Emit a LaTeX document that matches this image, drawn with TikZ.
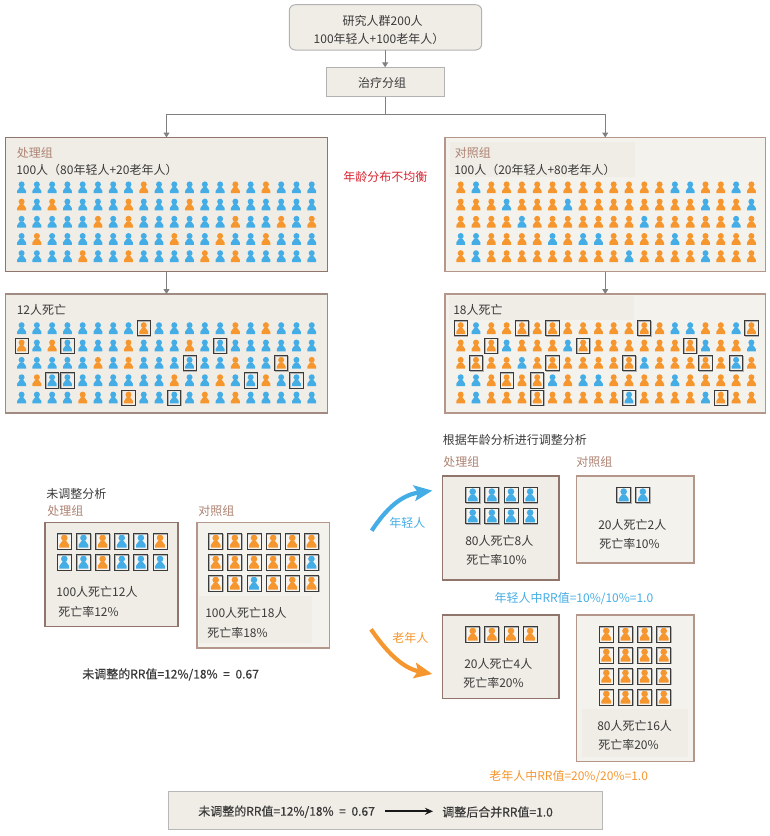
\documentclass[tikz,border=0pt]{standalone}
\usepackage{fontspec}
\setmainfont{Noto Sans CJK SC}
\newfontfamily\medfont[FakeBold=0.5]{Noto Sans CJK SC}
\usetikzlibrary{arrows.meta}
\definecolor{B}{HTML}{45ADE6}
\definecolor{O}{HTML}{F5962F}
\definecolor{ink}{HTML}{3A3A3A}
\definecolor{brown}{HTML}{AD8272}
\definecolor{alert}{HTML}{D8232E}
\definecolor{pfill}{HTML}{F0EDE6}
\definecolor{qfill}{HTML}{F4F2ED}
\definecolor{pline}{HTML}{8F756B}
\definecolor{qline}{HTML}{B4978A}
\definecolor{link}{HTML}{808080}
\newif\ifhit
\tikzset{
  pxw/.style={line width=#1*.75pt},
  txt/.style={inner sep=0pt,font=\fontsize{9pt}{11pt}\selectfont,text=ink},
  lab/.style={text=brown},
  bluet/.style={text=B},
  oranget/.style={text=O},
  med/.style={font=\fontsize{9pt}{11pt}\medfont},
  darkpanel/.style={draw=pline,fill=pfill,pxw=1.6},
  lightpanel/.style={draw=qline,fill=qfill,pxw=1.6},
  softpanel/.style={draw=#1,fill=pfill,pxw=1},
  inner/.style={fill=pfill},
  linkline/.style={draw=link,pxw=1,-{Triangle[length=5*.75pt,width=6*.75pt]}},
  plainline/.style={draw=link,pxw=1},
  tag/.style={draw=ink,pxw=.9},
  tagshade/.style={draw=black!30,pxw=1}
}
\newcommand{\man}[4]{% x y colour scale
  \begin{scope}[shift={(#1,#2)},scale=#4]
    \fill[#3] (0,-3.1) circle (3);
    \fill[#3] (-4.4,5.7) -- (-4.4,3.3) .. controls (-4.4,1.5) and (-2.1,1.6) .. (-1.6,-.5) -- (1.6,-.5) .. controls (2.1,1.6) and (4.4,1.5) .. (4.4,3.3) -- (4.4,5.7) -- cycle;
  \end{scope}}
\newcommand{\tagbox}[4]{% x y w h
  \draw[tagshade] ({#1-#3/2+.6},{#2-#4/2+.6}) rectangle ({#1+#3/2+.6},{#2+#4/2+.6});
  \draw[tag] ({#1-#3/2},{#2-#4/2}) rectangle ({#1+#3/2},{#2+#4/2});}
\newcommand{\crowd}[7]{% x0 y0 dx dy base alt rows(r/{alts}/{boxes})
  \foreach \rowi/\alts/\boxes in {#7} {
    \foreach \cc in {1,...,20} {
      \pgfmathsetmacro{\px}{#1+(\cc-1)*#3}
      \pgfmathsetmacro{\py}{#2+(\rowi-1)*#4}
      \global\hitfalse
      \foreach \o in \alts {\ifnum\o=\cc\relax\global\hittrue\fi}
      \ifhit\man{\px}{\py}{#6}{1}\else\man{\px}{\py}{#5}{1}\fi
      \foreach \o in \boxes {\ifnum\o=\cc\relax\tagbox{\px}{\py}{13.2}{15.2}\fi}
    }
  }}
\newcommand{\tiles}[3]{% x0 y0 rows
  \foreach \rw [count=\ri from 0] in {#3} {
    \foreach \cl [count=\ci from 0] in \rw {
      \pgfmathsetmacro{\px}{#1+\ci*19.15}
      \pgfmathsetmacro{\py}{#2+\ri*21}
      \fill[white!40!pfill] ({\px-7},{\py-8}) rectangle ({\px+7},{\py+8});
      \man{\px}{\py}{\cl}{1.1}
      \tagbox{\px}{\py}{14}{15.6}
    }
  }}
\newcommand{\tbox}[6]{% name x1 y1 x2 y2 style
  \node[#6,anchor=north west,inner sep=0pt,outer sep=0pt,
    minimum width={(#4-#2)*.75pt},minimum height={(#5-#3)*.75pt}] (#1) at (#2,#3) {};}
\newcommand{\tx}[5]{% name x y style text
  \node[txt,anchor=west,#4] (#1) at (#2,#3) {#5};}
\newcommand{\eqgap}{\hspace{2.2pt}}
\begin{document}
\begin{tikzpicture}[x=.75pt,y=-.75pt]
\useasboundingbox (0,0) rectangle (770,836);
% top
\node[draw=black!30,fill=pfill,rounded corners=4.5pt,pxw=1,anchor=north west,inner sep=0pt,outer sep=0pt,
  minimum width={192.4*.75pt},minimum height={45.3*.75pt}] (top) at (289.3,4.7) {};
\node[txt,anchor=center] (topa) at (382.7,21) {研究人群200人};
\node[txt,anchor=center] (topb) at (379,38.7) {100年轻人+100老年人）};
\tbox{split}{326.3}{67.3}{444}{96.7}{draw=black!30,fill=pfill,pxw=1}
\node[txt,anchor=center] (splitt) at (382,83) {治疗分组};
\coordinate (fork) at (385.15,114.5);
% panels
\tbox{pa}{5.5}{137.5}{327.5}{271.5}{darkpanel}
\tbox{pb}{445}{137.5}{765.5}{271.5}{lightpanel}
\tbox{pbi}{450}{142}{635}{177}{inner}
\tbox{pc}{5.5}{294}{327.5}{413}{darkpanel,draw=pline!85}
\tbox{pd}{445}{294}{765.5}{413}{lightpanel}
\tbox{pdi}{449}{296}{634}{320}{inner}
% links
\draw[linkline] (top.south -| split.north) -- (split.north);
\draw[plainline] (split.south) -- (fork);
\draw[linkline] (fork) -| (pa.north);
\draw[linkline] (fork) -| (pb.north);
\draw[linkline] (pa.south) -- (pc.north);
\draw[linkline] (pb.south) -- (pd.north);
% panel texts
\tx{pat}{16.5}{152.5}{lab}{处理组}
\tx{pas}{16}{170}{}{100人（80年轻人+20老年人）}
\tx{pbt}{454.5}{152.5}{lab}{对照组}
\tx{pbs}{454}{170}{}{100人（20年轻人+80老年人）}
\tx{pct}{16.5}{309.5}{}{12人死亡}
\tx{pdt}{453}{309.5}{}{18人死亡}
\tx{warn}{343}{177}{text=alert}{年龄分布不均衡}
% crowds
\crowd{21.6}{187.5}{15.27}{17.2}{B}{O}{1/{9,15,17}/{0},2/{1,3,8,12}/{0},3/{6,8,15,18,20}/{0},4/{2,11,14,17}/{0},5/{5,8,13,15}/{0}}
\crowd{460.7}{187.5}{15.3}{17.2}{O}{B}{1/{2,15,16,19}/{0},2/{4,8,17,20}/{0},3/{5,13,19}/{0},4/{1,2,7,9,10,15}/{0},5/{2,12,17}/{0}}
\crowd{21.6}{328.3}{15.27}{17.35}{B}{O}{1/{9,15,17}/{9},2/{1,3,8,12}/{1,4,14},3/{6,8,15,18,20}/{12,18},4/{2,11,14,17}/{3,4,16,19},5/{5,8,13,15}/{8,11}}
\crowd{460.7}{328.3}{15.3}{17.35}{O}{B}{1/{2,15,16,19}/{1,5,7,13,20},2/{4,8,17,20}/{3,9,16},3/{5,13,19}/{2,7,12,17,19},4/{1,2,7,9,10,15}/{4,6},5/{2,12,17}/{6,12,18}}
% unadjusted
\tx{ua}{46}{493.5}{}{未调整分析}
\tx{uat}{47}{510.5}{lab}{处理组}
\tx{ubt}{198}{510.5}{lab}{对照组}
\tbox{ub1}{45}{522.3}{178}{626.3}{darkpanel}
\tbox{ub2}{196.7}{522.3}{329.3}{647.7}{lightpanel}
\tbox{ub2i}{198.5}{596}{312}{643}{inner}
\tiles{64.3}{541.3}{{O,B,O,B,B,O},{B,B,O,B,B,B}}
\tiles{215.7}{541.3}{{O,O,O,O,O,O},{O,O,O,O,O,B},{O,O,B,O,O,O}}
\tx{u1a}{56}{592}{}{100人死亡12人}
\tx{u1b}{58}{611.7}{}{死亡率12\%}
\tx{u2a}{205}{612.7}{}{100人死亡18人}
\tx{u2b}{207}{632.7}{}{死亡率18\%}
\tx{urr}{82}{674.5}{med}{未调整的RR值=12\%/18\%\eqgap{} = \eqgap{}0.67}
% adjusted
\tx{aa}{442.7}{440}{}{根据年龄分析进行调整分析}
\tx{aat}{443}{461.7}{lab}{处理组}
\tx{abt}{576}{461.7}{lab}{对照组}
\tbox{a1}{442.3}{475.7}{558.7}{579.7}{darkpanel}
\tbox{a2}{576.3}{475.7}{694}{562.7}{lightpanel}
\tiles{472.7}{495}{{B,B,B,B},{B,B,B,B}}
\tiles{623.7}{495}{{B,B}}
\tx{a1a}{465}{541.3}{}{80人死亡8人}
\tx{a1b}{466}{560}{}{死亡率10\%}
\tx{a2a}{598}{525}{}{20人死亡2人}
\tx{a2b}{599}{544}{}{死亡率10\%}
\tx{yrr}{494.3}{598.3}{bluet}{年轻人中RR值=10\%/10\%=1.0}
\tbox{a3}{442.3}{615}{558.7}{698.3}{darkpanel}
\tbox{a4}{576.3}{615}{694}{761.3}{lightpanel}
\tbox{a4i}{582}{709}{688}{757}{inner}
\tiles{472.7}{634.3}{{O,O,O,O}}
\tiles{606.3}{634.3}{{O,O,O,O},{O,O,O,O},{O,O,O,O},{O,O,O,O}}
\tx{a3a}{464}{663.7}{}{20人死亡4人}
\tx{a3b}{463}{683.3}{}{死亡率20\%}
\tx{a4a}{597}{725.7}{}{80人死亡16人}
\tx{a4b}{598}{744.7}{}{死亡率20\%}
\tx{orr}{489}{776.3}{oranget}{老年人中RR值=20\%/20\%=1.0}
% curved arrows
\coordinate (ys) at (371.7,530.7);
\coordinate (ye) at (432.3,490.6);
\coordinate (os) at (371,629.3);
\coordinate (oe) at (432.3,674);
\draw[B,pxw=4.2,-{Stealth[length=18*.75pt,width=15.5*.75pt,inset=3.5*.75pt]}] (ys) .. controls (386,509) and (401,495) .. (ye);
\draw[O,pxw=4.2,-{Stealth[length=18*.75pt,width=15.5*.75pt,inset=3.5*.75pt]}] (os) .. controls (386,651) and (402,668) .. (oe);
\tx{yl}{389}{522.7}{bluet}{年轻人}
\tx{ol}{392}{638.3}{oranget}{老年人}
% bottom
\tbox{bot}{168}{791.3}{602.7}{829.3}{softpanel=black!28}
\tx{b1}{198}{811.7}{med}{未调整的RR值=12\%/18\%\eqgap{} = \eqgap{}0.67}
\tx{b2}{442}{812}{med}{调整后合并RR值=1.0}
\coordinate (bs) at (385,811.3);
\coordinate (be) at (433,811.3);
\draw[black!90,pxw=2,-{Stealth[length=8*.75pt,width=7*.75pt]}] (bs) -- (be);
\end{tikzpicture}
\end{document}
